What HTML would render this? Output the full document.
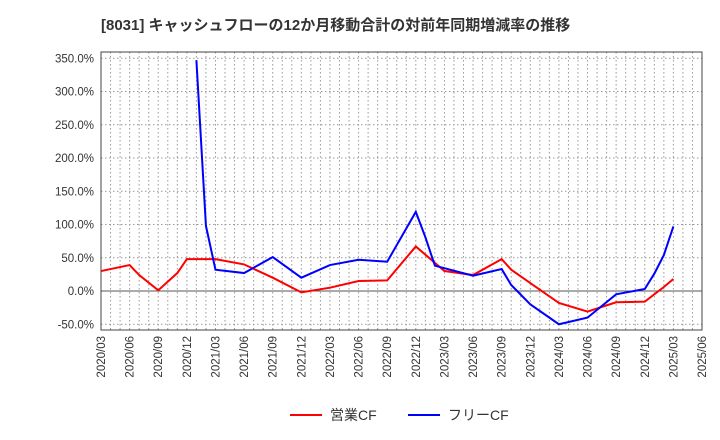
<!DOCTYPE html>
<html><head><meta charset="utf-8"><style>
body{margin:0;background:#fff;}
svg{display:block;font-family:"Liberation Sans","Noto Sans CJK JP",sans-serif;}
</style></head><body>
<svg id="c" width="720" height="440">
<text x="101" y="30" font-size="15" font-weight="bold" fill="#333">[8031]  キャッシュフローの12か月移動合計の対前年同期増減率の推移</text>
<g id="grid"></g><g id="axes"></g><g id="series"></g>
<g>
<line x1="290" y1="415" x2="322" y2="415" stroke="#f00" stroke-width="2"/>
<text x="330" y="420" font-size="14" fill="#333">営業CF</text>
<line x1="408" y1="415" x2="440" y2="415" stroke="#00f" stroke-width="2"/>
<text x="448" y="420" font-size="14" fill="#333">フリーCF</text>
</g>
</svg>
<script>
const yTicks=[350,300,250,200,150,100,50,0,-50];
const xLabels=["2020/03","2020/06","2020/09","2020/12","2021/03","2021/06","2021/09","2021/12","2022/03","2022/06","2022/09","2022/12","2023/03","2023/06","2023/09","2023/12","2024/03","2024/06","2024/09","2024/12","2025/03","2025/06"];
const opMonths=[0,3,4,6,8,9,12,15,18,21,24,27,30,33,36,39,42,43,45,48,51,54,57,59,60];
const opValues=[30,39,24,1,27,48,48,40,20,-2,5,15,16,67,30,24,48,32,12,-18,-31,-17,-16,6,18];
const fcfMonths=[10,11,12,15,18,21,24,27,30,33,34,35,39,42,43,45,48,51,54,57,58,59,60];
const fcfValues=[347,98,32,27,51,20,39,47,44,119,81,38,23,33,9,-20,-50,-40,-5,3,26,54,97];
const L=101,R=702,T=52,B=330;
const xs=m=>L+m*(R-L)/63;
const ys=v=>291-v*0.665;
const NS="http://www.w3.org/2000/svg";
function mk(t,a,p){const e=document.createElementNS(NS,t);for(const k in a)e.setAttribute(k,a[k]);p.appendChild(e);return e;}
const grid=document.getElementById('grid'),axes=document.getElementById('axes'),ser=document.getElementById('series');
for(let m=1;m<63;m++){const l=mk('line',{x1:xs(m),x2:xs(m),y1:T,y2:B,stroke:'#999','stroke-dasharray':'1.5,2.5','stroke-width':1},grid);

}
yTicks.forEach(v=>{const l=mk('line',{x1:L,x2:R,y1:ys(v),y2:ys(v),stroke:v===0?'#555':'#999','stroke-dasharray':v===0?'':'1.5,2.5','stroke-width':1},grid);


const t=mk('text',{x:94,y:ys(v)+4,'text-anchor':'end','font-size':11.5,fill:'#333'},axes);t.textContent=v.toFixed(1)+'%';

});
xLabels.forEach((s,i)=>{const x=xs(i*3);const t=mk('text',{transform:`translate(${x+4},${B+6}) rotate(-90)`,'text-anchor':'end','font-size':11.5,fill:'#333'},axes);t.textContent=s;

});
const fr=mk('rect',{x:L,y:T,width:R-L,height:B-T,fill:'none',stroke:'#444','stroke-width':1},axes);


function line(ms,vs,c,n){const p=mk('polyline',{points:ms.map((m,i)=>xs(m)+','+ys(vs[i])).join(' '),fill:'none',stroke:c,'stroke-width':2},ser);

}
line(opMonths,opValues,'#f00','operating-cf-line');
line(fcfMonths,fcfValues,'#00f','free-cf-line');
</script>
</body></html>
